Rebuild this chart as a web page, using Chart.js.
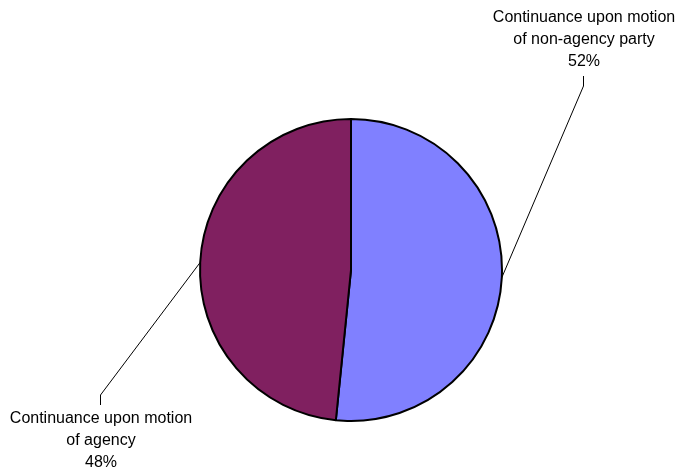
<!DOCTYPE html>
<html lang="en">

<head>
    <meta charset="UTF-8" />
    <title>Continuances</title>
    <script src="https://cdn.jsdelivr.net/npm/chart.js"></script>
    <style>
        html, body {
            margin: 0;
            padding: 0;
            background: #ffffff;
        }

        #wrap {
            width: 676px;
            height: 469px;
        }
    </style>
</head>

<body>
    <div id="wrap"><canvas id="grafico" width="676" height="469"></canvas></div>

    <script>
        const categorias = [
            ['Continuance upon motion', 'of non-agency party'],
            ['Continuance upon motion', 'of agency']
        ];
        const valores = [51.6, 48.4];
        const porcentajes = ['52%', '48%'];
        const colores = ['#8080FF', '#802060'];

        // where each label sits (text centre x, first baseline y) and the
        // bend of its leader line, as placed by hand in the original
        const etiquetas = [
            { x: 584, y: 22, codoY: 86, finY: 76 },
            { x: 101, y: 423, codoY: 395, finY: 405 }
        ];

        const pluginEtiquetas = {
            id: 'etiquetas',
            afterDatasetsDraw(chart) {
                const ctx = chart.ctx;
                const arcos = chart.getDatasetMeta(0).data;
                ctx.save();
                arcos.forEach((arco, i) => {
                    const et = etiquetas[i];
                    const medio = (arco.startAngle + arco.endAngle) / 2;
                    const ax = arco.x + Math.cos(medio) * arco.outerRadius;
                    const ay = arco.y + Math.sin(medio) * arco.outerRadius;

                    ctx.strokeStyle = '#000000';
                    ctx.lineWidth = 1;
                    ctx.beginPath();
                    ctx.moveTo(ax, ay);
                    ctx.lineTo(et.x - 0.5, et.codoY);
                    ctx.lineTo(et.x - 0.5, et.finY);
                    ctx.stroke();

                    ctx.fillStyle = '#000000';
                    ctx.font = '16px "Liberation Sans", Arial, sans-serif';
                    ctx.textAlign = 'center';
                    ctx.textBaseline = 'alphabetic';
                    const lineas = categorias[i].concat([porcentajes[i]]);
                    lineas.forEach((t, j) => {
                        ctx.fillText(t, et.x, et.y + j * 22.2);
                    });
                });
                ctx.restore();
            }
        };

        new Chart(document.getElementById('grafico'), {
            type: 'pie',
            data: {
                labels: categorias.map(c => c.join(' ')),
                datasets: [{
                    data: valores,
                    backgroundColor: colores,
                    borderColor: '#000000',
                    borderWidth: 2
                }]
            },
            options: {
                responsive: false,
                animation: false,
                layout: {
                    padding: { left: 199, right: 173, top: 118, bottom: 47 }
                },
                plugins: {
                    legend: { display: false },
                    tooltip: { enabled: false }
                }
            },
            plugins: [pluginEtiquetas]
        });
    </script>

</body>

</html>
